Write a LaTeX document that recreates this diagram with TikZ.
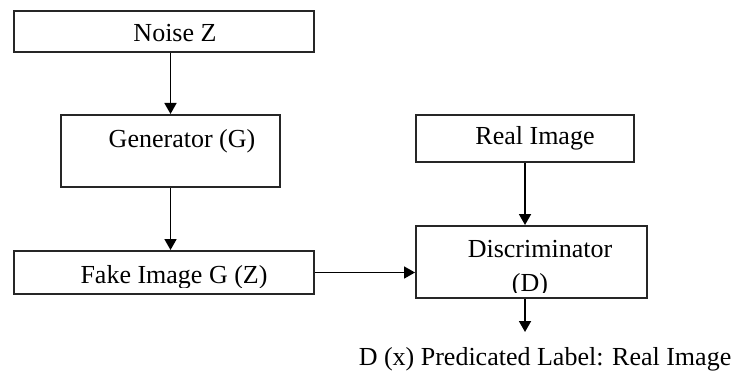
\documentclass[tikz,border=0pt]{standalone}
\usepackage{fontspec}
\setmainfont{Liberation Serif}
\usetikzlibrary{arrows.meta,calc}
\begin{document}
\begin{tikzpicture}[x=1pt,y=-1pt,
  box/.style={draw=black!85, line width=2pt, inner sep=0pt, anchor=north west},
  lbl/.style={font=\fontsize{26}{31}\selectfont, inner sep=0pt, anchor=base},
  arr/.style={line width=1.8pt, -{Triangle[width=12pt,length=11pt]}}]
\useasboundingbox (0,0) rectangle (738,374);
% boxes
\node[box, minimum width=300pt, minimum height=41pt] (noise) at (13,10) {};
\node[box, minimum width=219pt, minimum height=72pt] (gen) at (60,114) {};
\node[box, minimum width=300pt, minimum height=43pt] (fake) at (13,250) {};
\node[box, minimum width=218pt, minimum height=47pt] (real) at (415,114) {};
\node[box, minimum width=231pt, minimum height=72pt] (disc) at (415,225) {};
% texts
\node[lbl] (noiset) at (175,42) {Noise Z};
\node[lbl] (gent) at (182,148) {Generator (G)};
\node[lbl] (realt) at (535,145) {Real Image};
\node[lbl] (disct) at (540,257) {Discriminator};
\begin{scope}
  \clip (fake.north west) rectangle ($(fake.south east)+(0,-8)$);
  \node[lbl] (faket) at (174,283) {Fake Image G (Z)};
\end{scope}
\begin{scope}
  \clip (disc.north west) rectangle ($(disc.south east)+(0,-7)$);
  \node[lbl] (discd) at (530,291) {(D)};
\end{scope}
\node[lbl] (out) at (545,365) {D (x) Predicated Label: Real Image};
\coordinate (outtip) at (525,332);
% connectors
\draw[arr] (noise.south -| gen.south) -- (gen.north);
\draw[arr] (gen.south) -- (gen.south |- fake.north);
\draw[arr] (fake.east) -- (fake.east -| disc.west);
\draw[arr] (real.south) -- (real.south |- disc.north);
\draw[arr] (real.south |- disc.south) -- (outtip);
\end{tikzpicture}
\end{document}
